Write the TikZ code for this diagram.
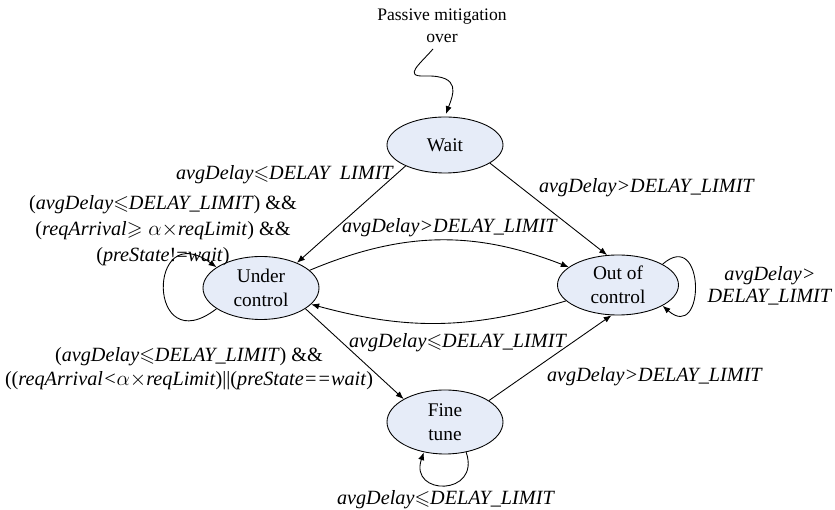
\documentclass[tikz,border=0pt]{standalone}
\usepackage{amsmath}
\usepackage{amssymb}
\usepackage{fontspec}
\setmainfont{Liberation Serif}
\usetikzlibrary{arrows.meta,shapes.geometric}

\definecolor{statefill}{RGB}{230,236,248}

\newcommand{\avgd}{\textit{avgDelay}}
\newcommand{\dlimit}{\textit{DELAY\_LIMIT}}

\tikzset{
	state/.style={draw,ellipse,fill=statefill,align=center,inner sep=0pt,line width=0.5pt,font=\fontsize{11}{13.5}\selectfont},
	cond/.style={align=center,inner sep=0pt,font=\fontsize{11.5}{14}\selectfont},
	trans/.style={-{Latex[length=4.5pt,width=3.5pt]},line width=0.5pt}
}

\begin{document}
\begin{tikzpicture}
			\useasboundingbox (0,0) rectangle (16.7,-10.2);

			\coordinate (waitpos) at (8.9,-2.9);
			\coordinate (underpos) at (5.22,-5.76);
			\coordinate (outpos) at (12.36,-5.7);
			\coordinate (finepos) at (8.9,-8.44);
			\coordinate (snakestart) at (8.66,-0.98);

			\node[state,minimum width=2.32cm,minimum height=1.12cm] (wait) at (waitpos) {Wait};
			\node[state,minimum width=2.32cm,minimum height=1.26cm] (under) at (underpos) {Under\\control};
			\node[state,minimum width=2.42cm,minimum height=1.2cm] (outc) at (outpos) {Out of\\control};
			\node[state,minimum width=2.32cm,minimum height=1.28cm] (fine) at (finepos) {Fine\\tune};

			\node[align=center,inner sep=0pt,font=\fontsize{10}{12.5}\selectfont] (passive) at (8.84,-0.52) {Passive mitigation\\over};

			% entry into the wait state
			\draw[trans,shorten >=1.5pt] (snakestart) .. controls (8.4,-1.28) and (8.05,-1.54) .. (8.5,-1.52)
				.. controls (9.25,-1.5) and (9.06,-1.9) .. (wait.north);

			\draw[trans] (wait.208) -- (under.35);
			\draw[trans] (wait.-22) -- (outc.110);
			\draw[trans] (under.20) to[bend left=22] (outc.160);
			\draw[trans] (outc.197) to[bend left=16] (under.-18);
			\draw[trans] (under.-25) -- (fine.151);
			\draw[trans] (fine.26) -- (outc.258);

			% self loops
			\draw[trans] (under.205) .. controls +(-1.4,-1.08) and +(-1.4,1.02) .. (under.155);
			\draw[trans] (outc.25) .. controls +(0.86,0.75) and +(0.86,-0.75) .. (outc.-25);
			\draw[trans] (fine.-55) .. controls +(0.3,-0.88) and +(-0.3,-0.88) .. (fine.-125);

			\node[cond] (lblwu) at (5.7,-3.5) {\avgd$\leqslant$\textit{DELAY\ \ LIMIT}};
			\node[cond] (lblwo) at (12.94,-3.76) {\avgd\textit{>}\dlimit};
			\node[cond,font=\fontsize{11.5}{14.8}\selectfont] (lbluloop) at (3.26,-4.62)
				{(\avgd$\leqslant$\dlimit) \&\&\\(\textit{reqArrival}$\geqslant\alpha{\times}$\textit{reqLimit}) \&\&\\(\textit{preState}!=\textit{wait})};
			\node[cond] (lblup) at (9.0,-4.56) {\avgd\textit{>}\dlimit};
			\node[cond,font=\fontsize{11.5}{12.5}\selectfont] (lbloloop) at (15.4,-5.72) {\avgd\textit{>}\\\dlimit};
			\node[cond] (lbllow) at (9.16,-6.86) {\avgd$\leqslant$\dlimit};
			\node[cond,font=\fontsize{11.5}{13.7}\selectfont] (lbluf) at (3.78,-7.38)
				{(\avgd$\leqslant$\dlimit) \&\&\\((\textit{reqArrival<}$\alpha{\times}$\textit{reqLimit})||(\textit{preState==wait})};
			\node[cond] (lblfo) at (13.1,-7.54) {\avgd\textit{>}\dlimit};
			\node[cond] (lblfloop) at (8.92,-10.0) {\avgd$\leqslant$\dlimit};
\end{tikzpicture}
\end{document}
